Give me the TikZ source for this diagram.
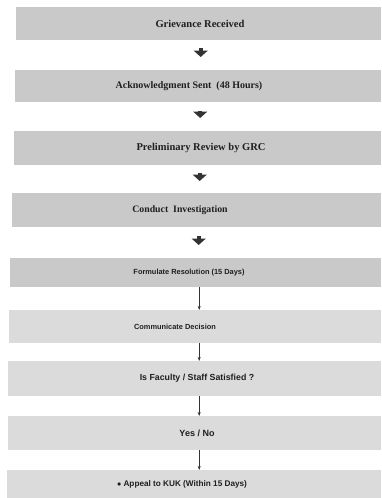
\documentclass[tikz,border=0pt]{standalone}
\usepackage{fontspec}
\setmainfont{Liberation Serif}
\setsansfont{Liberation Sans}
\usetikzlibrary{arrows.meta}
\definecolor{boxtop}{gray}{0.79}
\definecolor{boxlow}{gray}{0.86}
\tikzset{
  x=1pt, y=-1pt,
  stepbox/.style={fill=boxtop, draw=none, inner sep=0pt, anchor=north west},
  lowbox/.style={fill=boxlow, draw=none, inner sep=0pt, anchor=north west},
  toplabel/.style={font=\bfseries, text=black!88, inner sep=0pt},
  lowlabel/.style={font=\sffamily\bfseries, text=black!88, inner sep=0pt},
  fatarrow/.style={draw=black!80, line width=4pt, -{Triangle[width=14pt,length=6.5pt]}},
  thinarrow/.style={draw=black!80, line width=0.6pt, -{Stealth[length=4pt,width=3pt]}}
}
\newcommand{\fsz}[1]{\fontsize{#1}{#1}\selectfont}
\begin{document}
\begin{tikzpicture}
\useasboundingbox (0,0) rectangle (381,498);
% boxes
\node[stepbox, minimum width=365pt, minimum height=33pt] (b1) at (16,7) {};
\node[stepbox, minimum width=366pt, minimum height=32pt] (b2) at (15,70) {};
\node[stepbox, minimum width=367pt, minimum height=34pt] (b3) at (14,131) {};
\node[stepbox, minimum width=369pt, minimum height=34pt] (b4) at (12,193) {};
\node[stepbox, minimum width=371pt, minimum height=29pt] (b5) at (10,258) {};
\node[lowbox, minimum width=372pt, minimum height=33pt] (b6) at (9,310) {};
\node[lowbox, minimum width=373pt, minimum height=35pt] (b7) at (8,361) {};
\node[lowbox, minimum width=373pt, minimum height=34pt] (b8) at (8,416) {};
\node[lowbox, minimum width=374pt, minimum height=28pt] (b9) at (7,470) {};
% labels
\node[toplabel] (t1) at (200,23.5) {\fsz{10.5}Grievance Received};
\node[toplabel] (t2) at (189,86) {\fsz{10}Acknowledgment Sent\ \ (48 Hours)};
\node[toplabel] (t3) at (201,148) {\fsz{10.5}Preliminary Review by GRC};
\node[toplabel] (t4) at (180,210) {\fsz{9.8}Conduct\ \ Investigation};
\node[lowlabel] (t5) at (189,272.5) {\fsz{7.4}Formulate Resolution (15 Days)};
\node[lowlabel] (t6) at (175,326.5) {\fsz{7.4}Communicate Decision};
\node[lowlabel] (t7) at (197,378.5) {\fsz{8.8}Is Faculty / Staff Satisfied ?};
\node[lowlabel] (t8) at (197,433) {\fsz{9}Yes / No};
\node[lowlabel] (t9) at (182,484) {\fsz{8.2}$\bullet$ Appeal to KUK (Within 15 Days)};
% fat arrows
\draw[fatarrow, shorten <=8pt, shorten >=13pt] ([xshift=2pt]b1.south) -- ([xshift=2pt]b1.south |- b2.north);
\draw[fatarrow, shorten <=9pt, shorten >=13pt] ([xshift=2pt]b2.south) -- ([xshift=2pt]b2.south |- b3.north);
\draw[fatarrow, shorten <=8pt, shorten >=12pt] ([xshift=2pt]b3.south) -- ([xshift=2pt]b3.south |- b4.north);
\draw[fatarrow, shorten <=9pt, shorten >=13pt] ([xshift=2pt]b4.south) -- ([xshift=2pt]b4.south |- b5.north);
% thin arrows
\draw[thinarrow] ([xshift=3.5pt]b5.south) -- ([xshift=3.5pt]b5.south |- b6.north);
\draw[thinarrow] ([xshift=4pt]b6.south) -- ([xshift=4pt]b6.south |- b7.north);
\draw[thinarrow] ([xshift=4.5pt]b7.south) -- ([xshift=4.5pt]b7.south |- b8.north);
\draw[thinarrow] ([xshift=4.5pt]b8.south) -- ([xshift=4.5pt]b8.south |- b9.north);
\end{tikzpicture}
\end{document}
